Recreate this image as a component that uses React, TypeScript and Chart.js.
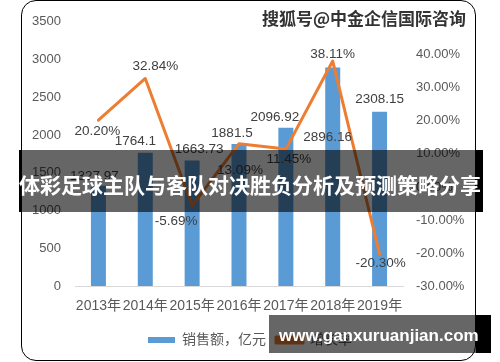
import React, { useEffect, useRef } from "react";
import { Chart, registerables } from "chart.js";

Chart.register(...registerables);

// ---- data ----
const years = ["2013年", "2014年", "2015年", "2016年", "2017年", "2018年", "2019年"];
const sales = [1327.97, 1764.1, 1663.73, 1881.5, 2096.92, 2896.16, 2308.15];
const growth = [20.2, 32.84, -5.69, 13.09, 11.45, 38.11, -20.3];
const salesText = ["1327.97", "1764.1", "1663.73", "1881.5", "2096.92", "2896.16", "2308.15"];
const growthText = ["20.20%", "32.84%", "-5.69%", "13.09%", "11.45%", "38.11%", "-20.30%"];
const seriesNames = ["销售额，亿元", "增长率"];
const titleText = "体彩足球主队与客队对决胜负分析及预测策略分享";
const topMark = "搜狐号@中金企信国际咨询";
const bottomMark = "www.ganxuruanjian.com";

// label placement (px shift from the mark), style only
const salesShift = [[-4, -9], [-10, -12], [7, -11], [-7, -11], [-11, -10], [-5, 70], [0, -12]];
const growthShift = [[-1, 11], [10, -12], [-16, 16], [1, 27], [3, 10], [0, -7], [1, 9]];

const FAMILY = '"Liberation Sans", "Noto Sans CJK SC", sans-serif';

const labelPlugin = {
  id: "valueLabels",
  afterDatasetsDraw(chart: any) {
    const ctx = chart.ctx;
    ctx.save();
    ctx.font = "13.5px " + FAMILY;
    ctx.fillStyle = "#404040";
    ctx.textAlign = "center";
    ctx.textBaseline = "middle";
    const barMeta = chart.getDatasetMeta(0);
    barMeta.data.forEach((el: any, i: number) => {
      ctx.fillText(salesText[i], el.x + salesShift[i][0], el.y + salesShift[i][1]);
    });
    const lineMeta = chart.getDatasetMeta(1);
    lineMeta.data.forEach((el: any, i: number) => {
      ctx.fillText(growthText[i], el.x + growthShift[i][0], el.y + growthShift[i][1]);
    });
    ctx.restore();
  },
};

export default function App() {
  const ref = useRef<HTMLCanvasElement | null>(null);

  useEffect(() => {
    if (!ref.current) return;
    const chart = new Chart(ref.current, {
      type: "bar",
      data: {
        labels: years,
        datasets: [
          {
            type: "bar",
            label: seriesNames[0],
            data: sales,
            backgroundColor: "#5B9BD5",
            borderWidth: 0,
            barPercentage: 0.32,
            categoryPercentage: 1,
            yAxisID: "y",
            order: 1,
          },
          {
            type: "line",
            label: seriesNames[1],
            data: growth,
            borderColor: "#ED7D31",
            backgroundColor: "#ED7D31",
            borderWidth: 3,
            pointRadius: 0,
            tension: 0,
            borderCapStyle: "round",
            borderJoinStyle: "round",
            yAxisID: "y1",
            order: 0,
          },
        ],
      } as any,
      options: {
        responsive: false,
        animation: false,
        devicePixelRatio: 1,
        layout: { padding: { left: 0, right: 0, top: 16, bottom: 5 } },
        plugins: {
          tooltip: { enabled: false },
          legend: {
            position: "bottom",
            labels: {
              boxWidth: 27,
              boxHeight: 6,
              padding: 10,
              color: "#595959",
              font: { size: 14, family: FAMILY },
              sort: (a: any, b: any) => a.datasetIndex - b.datasetIndex,
            },
          },
        },
        scales: {
          x: {
            grid: { display: false, drawTicks: false },
            border: { display: true, color: "#D9D9D9", width: 1 },
            ticks: {
              color: "#595959",
              font: { size: 14, family: FAMILY },
              padding: 12,
              maxRotation: 0,
              autoSkip: false,
            },
            afterFit(s: any) {
              s.height = 37;
            },
          },
          y: {
            position: "left",
            min: 0,
            max: 3500,
            ticks: {
              stepSize: 500,
              color: "#595959",
              font: { size: 13, family: FAMILY },
              padding: 14,
              callback: (v: any) => String(v),
            },
            grid: { display: false, drawTicks: false },
            border: { display: false },
            afterFit(s: any) {
              s.width = 75;
            },
          },
          y1: {
            position: "right",
            min: -30,
            max: 50,
            ticks: {
              stepSize: 10,
              color: "#595959",
              font: { size: 13, family: FAMILY },
              padding: 13,
              callback: (v: any) => (Number(v) === 50 ? "" : Number(v).toFixed(2) + "%"),
            },
            grid: { display: false, drawTicks: false },
            border: { display: false },
            afterFit(s: any) {
              s.width = 97;
            },
          },
        },
      } as any,
      plugins: [labelPlugin],
    });
    return () => chart.destroy();
  }, []);

  return (
    <div
      style={{
        position: "absolute",
        left: 0,
        top: 0,
        width: 500,
        height: 362,
        overflow: "hidden",
        background: "#fff",
      }}
    >
      <div
        style={{
          position: "absolute",
          left: 21,
          top: 0,
          width: 455,
          height: 361,
          boxSizing: "border-box",
          border: "1.5px solid #000",
          borderRadius: 15,
        }}
      />
      <canvas ref={ref} width={500} height={362} style={{ position: "absolute", left: 0, top: 0, display: "block" }} />
      <div
        style={{
          position: "absolute",
          left: 262,
          top: 7,
          lineHeight: "21px",
          fontSize: 17,
          fontWeight: 700,
          fontFamily: '"Noto Sans CJK SC", sans-serif',
          color: "#333",
          whiteSpace: "nowrap",
          textShadow: "0 0 2px #fff, 0 0 2px #fff, 0 0 1px #fff",
        }}
      >
        {topMark}
      </div>
      <div
        style={{
          position: "absolute",
          left: 19,
          top: 150,
          width: 464,
          height: 62,
          background:
            "linear-gradient(to right, #000 0px, #000 3px, rgba(0,0,0,0.6) 3px, rgba(0,0,0,0.6) 456px, #000 456px, #000 464px)",
        }}
      />
      <div
        style={{
          position: "absolute",
          left: 0,
          top: 153,
          width: 500,
          height: 62,
          color: "#fff",
          fontFamily: '"Noto Sans CJK SC", sans-serif',
          fontWeight: 700,
          fontSize: 21,
          lineHeight: "62px",
          textAlign: "center",
          whiteSpace: "nowrap",
        }}
      >
        {titleText}
      </div>
      <div
        style={{
          position: "absolute",
          left: 269,
          top: 315,
          width: 222,
          height: 38,
          background: "linear-gradient(to right, rgba(0,0,0,0.6) 0px, rgba(0,0,0,0.6) 207px, #000 207px, #000 222px)",
          color: "#fff",
          fontFamily: '"Liberation Sans", sans-serif',
          fontWeight: 700,
          fontSize: 17,
          lineHeight: "38px",
          paddingLeft: 10,
          paddingTop: 2,
          boxSizing: "border-box",
          whiteSpace: "nowrap",
        }}
      >
        {bottomMark}
      </div>
    </div>
  );
}
